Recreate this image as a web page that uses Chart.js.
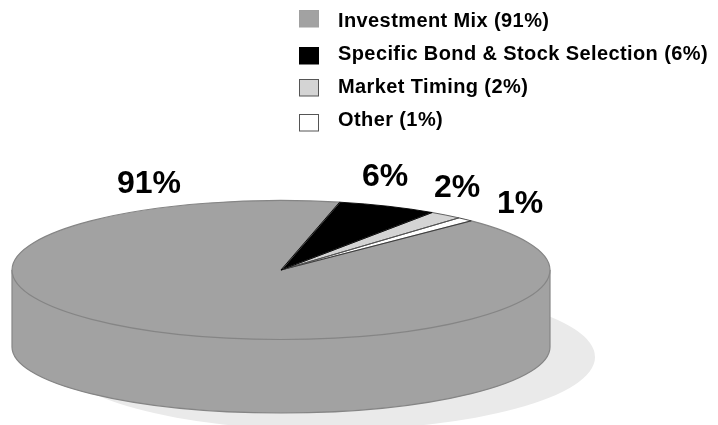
<!DOCTYPE html>
<html><head><meta charset="utf-8">
<style>html,body{margin:0;padding:0;background:#fff}#wrap{width:718px;height:425px;position:relative}</style>
<script src="https://cdn.jsdelivr.net/npm/chart.js@4"></script>
</head><body><div id="wrap"><canvas id="c" width="718" height="425"></canvas></div>
<script>
const categories = ["Investment Mix", "Specific Bond & Stock Selection", "Market Timing", "Other"];
const shares = [91, 6, 2, 1];
const sliceColors = ["#a2a2a2", "#000000", "#d4d4d4", "#ffffff"];
const edgeColors = ["#858585", "#000000", "#555555", "#333333"];

const SQUASH = 69.5 / 269, DEPTH = 77, WALL_RY = 66, FONT = '"Liberation Sans", Arial, sans-serif';

const pie3d = {
  id: 'pie3d',
  beforeDatasetsDraw(chart) {
    const ctx = chart.ctx, a = chart.getDatasetMeta(0).data[0];
    const r = a.outerRadius, ry = r * SQUASH;
    ctx.save();
    ctx.fillStyle = '#eaeaea';
    ctx.beginPath();
    ctx.ellipse(a.x + 45, a.y + 87, r, 73, 0, 0, Math.PI * 2);
    ctx.fill();
    ctx.beginPath();
    ctx.moveTo(a.x - r, a.y);
    ctx.lineTo(a.x - r, a.y + DEPTH);
    ctx.ellipse(a.x, a.y + DEPTH, r, WALL_RY, 0, Math.PI, 0, true);
    ctx.lineTo(a.x + r, a.y);
    ctx.fillStyle = '#a2a2a2';
    ctx.fill();
    ctx.strokeStyle = '#858585';
    ctx.lineWidth = 1.2;
    ctx.stroke();
    ctx.restore();
    ctx.save();
    ctx.translate(0, a.y);
    ctx.scale(1, SQUASH);
    ctx.translate(0, -a.y);
  },
  afterDatasetsDraw(chart) {
    const ctx = chart.ctx, meta = chart.getDatasetMeta(0);
    ctx.restore();
    [0, 3, 2, 1].forEach(i => {
      const a = meta.data[i];
      ctx.save();
      ctx.beginPath();
      ctx.moveTo(a.x, a.y);
      ctx.ellipse(a.x, a.y, a.outerRadius, a.outerRadius * SQUASH, 0, a.startAngle, a.endAngle);
      ctx.closePath();
      ctx.strokeStyle = edgeColors[i];
      ctx.lineWidth = i === 0 ? 1.2 : 0.9;
      ctx.lineJoin = 'round';
      ctx.stroke();
      ctx.restore();
    });
    // legend
    ctx.save();
    ctx.textBaseline = 'alphabetic';
    ctx.textAlign = 'left';
    const rowY = [27, 60, 93, 126], boxY = [10, 47, 79, 114];
    categories.forEach((c, i) => {
      ctx.fillStyle = sliceColors[i];
      ctx.fillRect(299.5, boxY[i] + 0.5, 19, 16.5);
      ctx.strokeStyle = i === 0 ? '#a0a0a0' : (i === 1 ? '#000' : '#555');
      ctx.lineWidth = 1;
      ctx.strokeRect(299.5, boxY[i] + 0.5, 19, 16.5);
      ctx.fillStyle = '#000';
      ctx.font = 'bold 20px ' + FONT;
      ctx.letterSpacing = '0.4px';
      ctx.fillText(c + ' (' + shares[i] + '%)', 338, rowY[i]);
    });
    ctx.letterSpacing = '0px';
    // value labels
    const lab = [[117, 193], [362, 186], [434, 197], [497, 213]];
    ctx.font = 'bold 32px ' + FONT;
    shares.forEach((v, i) => ctx.fillText(v + '%', lab[i][0], lab[i][1]));
    ctx.restore();
  }
};
new Chart(document.getElementById('c'), {
  type: 'pie',
  data: { labels: categories, datasets: [{
    data: shares, backgroundColor: sliceColors, borderWidth: 0, radius: 269, clip: false
  }]},
  options: {
    responsive: false, animation: false, rotation: 45,
    layout: { padding: { left: 0, right: 156, top: 115, bottom: 0 } },
    plugins: { legend: { display: false }, tooltip: { enabled: false } }
  },
  plugins: [pie3d]
});
</script></body></html>
